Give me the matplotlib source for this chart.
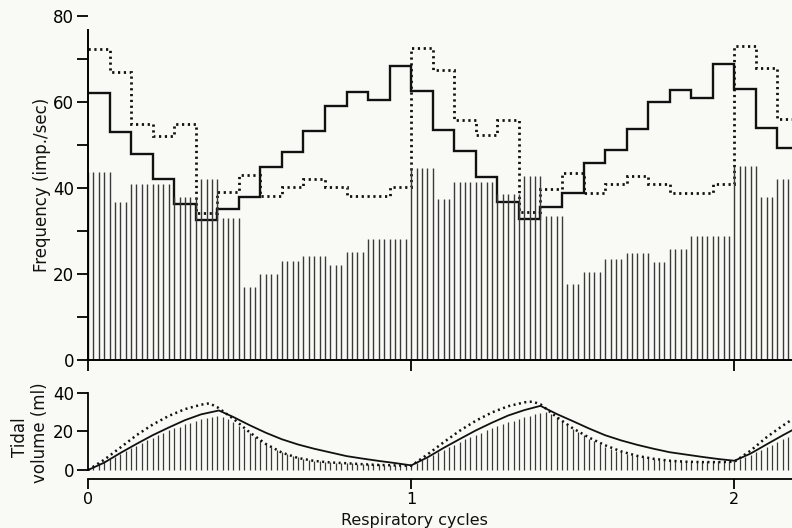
import matplotlib
matplotlib.use('Agg')
import matplotlib.pyplot as plt
import numpy as np

# ---------------- data ----------------
# Top panel: instantaneous frequency step curves (15 steps per respiratory cycle)
solid_steps_c0 = [62, 53, 48, 42, 36.3, 32.5, 35.2, 38, 45, 48.3, 53.3, 59.1, 62.4, 60.5, 68.4]
solid_steps_c1 = [62.5, 53.6, 48.6, 42.6, 36.7, 32.8, 35.6, 38.8, 45.8, 48.8, 53.7, 60, 62.8, 61, 68.8]
solid_steps_c2 = [63, 54, 49.3]
dotted_steps_c0 = [72.3, 67, 55, 52, 55, 34.2, 39, 43, 38.2, 40.3, 42.2, 40.3, 38.2, 38.2, 40.3]
dotted_steps_c1 = [72.5, 67.4, 55.8, 52.3, 55.8, 34.4, 39.8, 43.5, 38.8, 41, 42.8, 41, 38.8, 38.8, 41]
dotted_steps_c2 = [73, 68, 56]

# Top panel: vertical line "bars" (60 per cycle), given as groups of equal height
freq_group_counts_c0 = [5, 3, 8, 5, 4, 4, 3, 4, 4, 5, 3, 4, 8]
freq_group_heights_c0 = [43.7, 36.7, 41, 38, 42, 33, 17, 20, 23.1, 24.2, 22, 25.2, 28.1]
freq_group_counts_c1 = [5, 3, 8, 5, 4, 4, 3, 4, 4, 5, 3, 4, 8]
freq_group_heights_c1 = [44.6, 37.4, 41.5, 38.6, 42.8, 33.5, 17.7, 20.5, 23.6, 24.8, 22.7, 25.8, 28.9]
freq_group_counts_c2 = [5, 3, 3]
freq_group_heights_c2 = [45.1, 38, 42]

# Bottom panel: tidal volume curves (cycle position, ml)
vol_solid_t = [0, 0.05, 0.1, 0.15, 0.2, 0.25, 0.3, 0.35, 0.405, 0.45, 0.5, 0.55, 0.6, 0.65, 0.7,
               0.75, 0.8, 0.85, 0.9, 0.95, 1.0,
               1.05, 1.1, 1.15, 1.2, 1.25, 1.3, 1.35, 1.4, 1.45, 1.5, 1.55, 1.6, 1.65, 1.7,
               1.75, 1.8, 1.85, 1.9, 1.95, 2.0, 2.05, 2.1, 2.15, 2.18]
vol_solid_v = [0, 3.8, 8.8, 13.5, 18, 22, 25.8, 28.8, 30.8, 27.4, 23.2, 19.3, 15.9, 13.2, 11,
               9.1, 7.2, 5.9, 4.7, 3.6, 2.4,
               6.5, 11.4, 16, 20.5, 24.5, 28.2, 31, 33.2, 29, 25.3, 21.5, 18, 15.3, 13,
               11, 9.2, 8, 6.8, 5.7, 4.8, 8.5, 13.3, 18, 20.7]
vol_dotted_t = [0, 0.05, 0.1, 0.15, 0.2, 0.25, 0.3, 0.35, 0.375, 0.4, 0.45, 0.5, 0.55, 0.6, 0.65,
                0.7, 0.75, 0.8, 0.85, 0.9, 0.95, 1.0,
                1.05, 1.1, 1.15, 1.2, 1.25, 1.3, 1.35, 1.375, 1.4, 1.45, 1.5, 1.55, 1.6, 1.65,
                1.7, 1.75, 1.8, 1.85, 1.9, 1.95, 2.0, 2.05, 2.1, 2.15, 2.18]
vol_dotted_v = [0, 5.3, 11.6, 18, 23.5, 28, 31.5, 33.8, 34.5, 32.5, 26.5, 19.5, 13.5, 9, 6.2,
                4.7, 3.9, 3.5, 3, 2.6, 2.4, 2.2,
                8, 14.3, 20.3, 25.5, 29.8, 33, 35, 35.4, 34, 27.4, 21.6, 16.8, 12.8, 9.6,
                7.3, 5.8, 4.8, 4.3, 4.1, 4.1, 4.3, 10, 17, 23, 26.3]

# Bottom panel: vertical line bars (60 per cycle)
vol_bars_c0 = [0.5, 2, 3.5, 4.7, 5.7, 6.9, 8.3, 9.8, 11.2, 12.6, 14.2, 15.4, 16.8, 18, 19.2,
               20.5, 21.6, 22.4, 23.7, 24.5, 25.4, 26.3, 27.1, 27.6, 28, 27.5, 26.5, 25, 23, 21,
               19, 17, 15.3, 13.6, 12, 10.5, 9.3, 8.2, 7.3, 6.5, 5.9, 5.3, 4.9, 4.5, 4.2,
               4, 3.8, 3.6, 3.5, 3.4, 3.3, 3.2, 3.1, 3, 2.9, 2.8, 2.7, 2.6, 2.5, 2.4]
vol_bars_c1 = [2.2, 3.5, 5, 6.3, 7.8, 9.2, 10.5, 11.8, 13.2, 14.5, 15.8, 17, 18.2, 19.4, 20.5,
               21.6, 22.7, 23.7, 24.7, 25.6, 26.5, 27.4, 28.2, 29, 29.6, 29.8, 28.8, 27.2, 25.3, 23.3,
               21.4, 19.6, 17.9, 16.3, 14.8, 13.4, 12.1, 11, 10, 9.1, 8.3, 7.6, 7, 6.5, 6.1,
               5.7, 5.4, 5.2, 5, 4.9, 4.8, 4.8, 4.7, 4.7, 4.6, 4.6, 4.6, 4.5, 4.5, 4.5]
vol_bars_c2 = [4.8, 5.5, 6.8, 8, 9.3, 10.6, 11.9, 13.2, 14.5, 15.8, 17]

cycle_ticks = [0, 1, 2]
freq_ticks = [0, 20, 40, 60, 80]
vol_ticks = [0, 20, 40]

# ---------------- drawing ----------------
BG = '#f9f9f5'
INK = '#111111'
BAR = '#3a3a3a'
plt.rcParams['font.family'] = ['DejaVu Sans']
fig = plt.figure(figsize=(7.92, 5.28), dpi=100, facecolor=BG)
W, H = 792.0, 528.0
XMAX = 704 / 323.2

ax = fig.add_axes([88 / W, 1 - 360 / H, 704 / W, 344 / H])
ax.set_facecolor(BG)
ax.set_xlim(0, XMAX)
ax.set_ylim(0, 80)


def expand(counts, heights):
    return np.repeat(heights, counts)


bars_top = np.concatenate([expand(freq_group_counts_c0, freq_group_heights_c0),
                           expand(freq_group_counts_c1, freq_group_heights_c1),
                           expand(freq_group_counts_c2, freq_group_heights_c2)])
xb = np.arange(len(bars_top)) / 60.0
ax.vlines(xb, 0, bars_top, color=BAR, lw=1.0)

solid = np.array(solid_steps_c0 + solid_steps_c1 + solid_steps_c2)
dotted = np.array(dotted_steps_c0 + dotted_steps_c1 + dotted_steps_c2)
edges = np.arange(len(solid) + 1) / 15.0
ax.stairs(dotted, edges, baseline=None, color=INK, lw=2.0, linestyle=(0, (0.8, 1.3)))
ax.stairs(solid, edges, baseline=None, color=INK, lw=1.7)

for s in ['top', 'right']:
    ax.spines[s].set_visible(False)
ax.spines['left'].set_bounds(0, 76.7)
ax.spines['left'].set_linewidth(1.4)
ax.spines['bottom'].set_linewidth(1.4)
ax.set_yticks(freq_ticks)
ax.set_yticks([10, 30, 50, 70], minor=True)
ax.set_xticks(cycle_ticks)
ax.set_xticklabels([])
ax.tick_params(axis='y', which='both', direction='out', length=8, width=1.3, labelsize=12, pad=2)
ax.tick_params(axis='x', direction='out', length=8, width=1.3)
ax.yaxis.get_major_ticks()[-1].tick1line.set_color('#aaaaaa')

# bottom panel
ax2 = fig.add_axes([88 / W, 1 - 479.3 / H, 704 / W, (479.3 - 392.7) / H])
ax2.set_facecolor('none')
ax2.set_xlim(0, XMAX)
ax2.set_ylim(-4.8, 40)
bars_bot = np.array(vol_bars_c0 + vol_bars_c1 + vol_bars_c2)
xv = np.arange(len(bars_bot)) / 60.0
ax2.vlines(xv, 0, bars_bot, color=BAR, lw=0.9)
ax2.plot(vol_dotted_t, vol_dotted_v, color=INK, lw=1.8, linestyle=(0, (0.8, 1.4)))
ax2.plot(vol_solid_t, vol_solid_v, color=INK, lw=1.3)
for s in ['top', 'right']:
    ax2.spines[s].set_visible(False)
ax2.spines['left'].set_bounds(0, 40)
ax2.spines['left'].set_linewidth(1.3)
ax2.spines['bottom'].set_linewidth(1.3)
ax2.set_yticks(vol_ticks)
ax2.set_xticks(cycle_ticks)
ax2.set_xticklabels([str(c) for c in cycle_ticks])
ax2.tick_params(axis='y', direction='out', length=8, width=1.3, labelsize=12, pad=2)
ax2.tick_params(axis='x', direction='out', length=7, width=1.3, labelsize=11.5, pad=2)

fig.text(42 / W, 1 - 185 / H, 'Frequency (imp./sec)', rotation=90, ha='center', va='center',
         fontsize=12, color=INK)
fig.text(20 / W, 1 - 437 / H, 'Tidal', rotation=90, ha='center', va='center', fontsize=12, color=INK)
fig.text(40 / W, 1 - 433 / H, 'volume (ml)', rotation=90, ha='center', va='center', fontsize=12,
         color=INK)
fig.text(414 / W, 1 - 521 / H, 'Respiratory cycles', ha='center', va='center', fontsize=11.5,
         color=INK)

fig.savefig('out.png', dpi=100, facecolor=BG)
